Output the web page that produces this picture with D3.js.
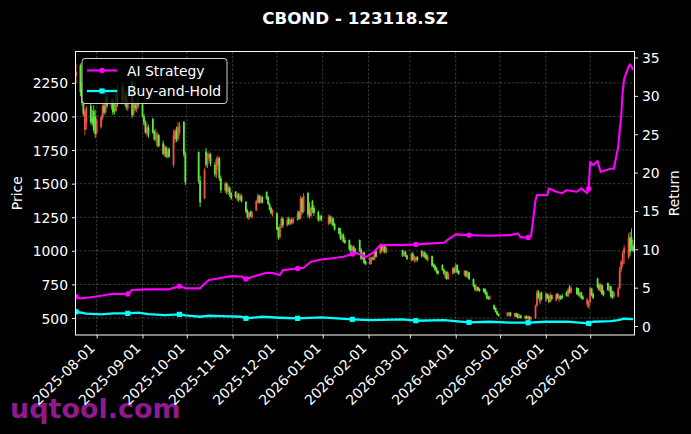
<!DOCTYPE html>
<html><head><meta charset="utf-8">
<script src="https://cdn.jsdelivr.net/npm/d3@7/dist/d3.min.js"></script>
<style>html,body{margin:0;padding:0;background:#000;}svg{display:block;}</style>
</head><body>
<script>
// ---------------- DATA ----------------
const TITLE = "CBOND - 123118.SZ";
const START_DAY = "2025-07-18", END_DAY = "2026-07-30";
const HOLIDAYS = ["2025-10-01","2025-10-02","2025-10-03","2025-10-06","2025-10-07","2025-10-08",
  "2026-01-01","2026-01-02","2026-02-16","2026-02-17","2026-02-18","2026-02-19","2026-02-20","2026-02-23",
  "2026-04-06","2026-05-01","2026-05-04","2026-05-05","2026-06-19"];
const monthTicks = ["2025-08-01","2025-09-01","2025-10-01","2025-11-01","2025-12-01","2026-01-01",
  "2026-02-01","2026-03-01","2026-04-01","2026-05-01","2026-06-01","2026-07-01"];
const priceTicks = [500,750,1000,1250,1500,1750,2000,2250];
const returnTicks = [0,5,10,15,20,25,30,35];

const opens = [2300,2380,2200,2100,1900,1950,2080,1990,2040,2000,1880,1920,1990,2080,2030,2150,2070,2120,2050,2040,2180,2100,2220,2110,2160,2060,2260,2020,2090,2050,2090,2090,2000,1950,1880,1920,1980,1890,1830,1780,1860,1800,1720,1770,1700,1760,1640,1830,1900,1830,1880,1960,1720,1735,1520,1390,1740,1640,1690,1720,1640,1560,1640,1690,1540,1450,1500,1440,1470,1430,1440,1390,1420,1380,1410,1365,1300,1240,1290,1250,1300,1360,1410,1360,1400,1440,1400,1350,1320,1270,1280,1170,1100,1180,1240,1190,1240,1200,1230,1210,1230,1290,1240,1390,1290,1430,1300,1260,1370,1320,1290,1230,1260,1200,1255,1210,1240,1200,1170,1140,1090,1120,1080,1080,1040,1000,1030,1010,1080,1010,940,990,920,900,930,950,935,1000,980,1040,1000,1040,990,1005,965,995,965,930,980,925,930,955,1000,960,990,970,930,960,900,890,870,850,895,860,800,845,790,830,870,840,895,850,820,850,810,840,790,745,705,730,715,720,715,690,660,640,597,575,550,530,515,520,540,510,535,530,500,520,495,515,490,512,490,500,590,700,620,690,630,680,665,620,670,630,680,640,665,665,690,660,730,690,725,720,665,690,660,600,580,620,720,680,795,750,700,745,700,760,700,735,700,660,660,720,860,900,980,950,1100,1100,1040];
const highs = [2390,2395,2250,2130,2060,2080,2100,2050,2085,2050,1990,2010,2100,2110,2195,2170,2135,2140,2100,2200,2245,2270,2250,2200,2190,2130,2275,2120,2110,2110,2140,2110,2020,1970,1960,1940,1990,1900,1910,1885,1870,1820,1790,1780,1760,1770,1900,1910,1925,1960,1960,1965,1740,1740,1560,1615,1765,1730,1740,1730,1660,1700,1710,1700,1560,1515,1510,1490,1480,1440,1445,1440,1430,1430,1420,1370,1310,1290,1300,1300,1380,1427,1420,1415,1410,1440,1410,1360,1330,1310,1285,1180,1200,1255,1250,1250,1255,1240,1245,1250,1300,1300,1410,1400,1430,1440,1360,1330,1380,1340,1300,1270,1270,1270,1265,1260,1250,1210,1175,1170,1130,1130,1100,1085,1050,1040,1040,1020,1085,1020,990,995,930,960,955,960,1000,1005,1055,1050,1050,1045,1030,1010,1000,1000,970,990,990,965,960,960,1005,1000,995,982,975,965,910,900,880,860,900,870,855,850,840,880,880,907,900,860,857,855,850,845,795,755,740,735,725,722,720,700,665,670,600,580,555,535,547,545,545,540,540,535,530,525,520,520,520,515,510,600,710,708,690,696,690,685,675,690,675,685,685,675,670,680,700,720,745,740,730,723,700,695,670,650,630,733,725,690,800,760,760,750,710,765,745,740,705,700,735,880,931,1000,1043,1130,1140,1167,1080];
const lows = [2250,2150,2080,2000,1860,1900,1940,1930,1880,1840,1860,1910,1970,2010,2020,2060,2050,2010,2015,2030,2070,2090,2100,2080,2050,2040,1990,2000,2040,2030,2060,1990,1930,1870,1850,1840,1870,1820,1810,1770,1770,1710,1700,1690,1690,1690,1620,1800,1810,1815,1860,1700,1490,1500,1325,1385,1620,1615,1670,1630,1550,1540,1600,1520,1430,1430,1420,1415,1400,1380,1390,1370,1365,1370,1360,1280,1240,1230,1250,1240,1295,1350,1350,1355,1350,1380,1340,1300,1270,1255,1150,1080,1090,1170,1170,1180,1190,1190,1195,1200,1220,1230,1235,1270,1280,1250,1240,1250,1280,1260,1215,1220,1220,1190,1200,1190,1180,1150,1120,1080,1070,1060,1050,1000,990,990,990,980,990,930,930,900,895,895,900,930,930,950,975,990,985,980,980,955,955,955,930,920,925,910,915,920,950,950,945,930,920,880,872,850,830,820,850,820,790,783,785,825,830,835,830,820,810,800,800,783,730,700,696,700,695,690,670,640,634,635,560,540,520,510,510,512,510,505,505,495,495,495,488,490,485,485,486,495,585,640,600,630,620,640,610,615,630,625,640,620,635,640,660,655,680,680,670,660,650,640,634,580,572,610,660,640,720,700,690,670,660,700,690,650,640,650,655,715,840,880,900,940,960,1000,990];
const closes = [2330,2180,2100,2020,2040,2060,1960,1950,1900,1870,1970,1995,2080,2030,2150,2080,2110,2030,2040,2180,2100,2220,2120,2170,2070,2100,2010,2090,2060,2090,2080,2000,1950,1880,1920,1860,1880,1830,1880,1860,1780,1720,1770,1700,1740,1700,1860,1890,1830,1920,1940,1720,1510,1520,1360,1600,1640,1700,1720,1650,1570,1680,1690,1540,1450,1500,1440,1470,1420,1390,1400,1420,1380,1410,1370,1290,1250,1280,1260,1290,1370,1410,1360,1400,1360,1390,1350,1310,1280,1300,1160,1100,1180,1240,1190,1230,1200,1230,1210,1240,1280,1240,1390,1290,1410,1270,1260,1320,1300,1280,1230,1260,1230,1255,1210,1240,1190,1160,1130,1090,1120,1070,1060,1010,1000,1030,1000,990,1000,940,980,910,900,950,945,935,990,955,1040,1000,1040,990,1020,965,990,960,940,975,935,955,950,930,960,990,955,940,960,890,880,860,840,830,860,830,845,790,830,870,840,895,840,830,850,810,840,790,740,710,730,705,700,695,680,650,640,660,565,545,525,515,540,540,515,535,510,500,520,500,515,495,512,490,505,590,690,650,680,640,680,650,620,670,640,675,650,665,640,650,665,710,690,725,680,670,690,650,640,640,620,720,670,650,730,710,745,680,670,710,735,660,650,690,720,860,920,980,1020,1100,990,1040,1000];

// Strategy return curves (key points) and their marker dates
const aiDates = ["2025-07-18","2025-07-21","2025-07-28","2025-08-04","2025-08-12","2025-08-22","2025-08-25","2025-09-04","2025-09-19","2025-09-26","2025-09-30","2025-10-10","2025-10-13","2025-10-16","2025-10-22","2025-10-31","2025-11-07","2025-11-10","2025-11-14","2025-11-24","2025-11-28","2025-12-03","2025-12-05","2025-12-15","2025-12-19","2025-12-24","2025-12-31","2026-01-06","2026-01-15","2026-01-21","2026-01-23","2026-01-28","2026-01-30","2026-02-04","2026-02-09","2026-02-13","2026-02-24","2026-03-05","2026-03-16","2026-03-24","2026-03-27","2026-04-01","2026-04-10","2026-04-24","2026-05-08","2026-05-13","2026-05-15","2026-05-20","2026-05-22","2026-05-25","2026-05-26","2026-06-02","2026-06-03","2026-06-08","2026-06-12","2026-06-15","2026-06-22","2026-06-25","2026-06-29","2026-06-30","2026-07-01","2026-07-03","2026-07-06","2026-07-08","2026-07-15","2026-07-17","2026-07-20","2026-07-21","2026-07-22","2026-07-23","2026-07-24","2026-07-27","2026-07-28","2026-07-29","2026-07-30"];
const aiValues = [3.82,3.6,3.75,3.95,4.2,4.17,4.69,4.78,4.78,5.2,4.91,4.91,5.5,6.0,6.2,6.5,6.45,6.12,6.4,6.95,6.9,6.64,7.29,7.5,7.6,8.38,8.68,8.81,9.03,9.38,9.55,9.25,8.95,9.55,10.55,10.55,10.55,10.64,10.77,10.85,11.29,11.94,11.85,11.76,11.85,12.07,11.55,11.55,11.7,16.4,17.06,17.06,17.94,17.5,17.3,17.7,17.5,17.94,17.3,17.9,21.4,20.97,21.5,20.1,20.5,20.5,23.4,25.5,27.3,30.5,32.2,33.8,34.1,33.8,33.4];
const bhDates = ["2025-07-18","2025-07-25","2025-08-04","2025-08-12","2025-08-22","2025-08-29","2025-09-05","2025-09-16","2025-09-26","2025-09-30","2025-10-10","2025-10-16","2025-10-24","2025-11-07","2025-11-10","2025-11-21","2025-12-03","2025-12-15","2025-12-31","2026-01-21","2026-02-02","2026-02-24","2026-03-05","2026-03-24","2026-04-10","2026-04-24","2026-05-08","2026-05-20","2026-06-01","2026-06-15","2026-06-30","2026-07-03","2026-07-15","2026-07-20","2026-07-24","2026-07-30"];
const bhValues = [1.86,1.62,1.52,1.65,1.65,1.74,1.56,1.43,1.52,1.38,1.21,1.34,1.30,1.21,1.0,1.21,1.08,1.0,1.13,0.87,0.78,0.87,0.69,0.78,0.48,0.56,0.43,0.43,0.56,0.56,0.35,0.56,0.65,0.78,0.95,0.91];
const markerDates = ["2025-07-18","2025-08-22","2025-09-26","2025-11-10","2025-12-15","2026-01-21","2026-03-05","2026-04-10","2026-05-20","2026-06-30"];

// ---------------- LAYOUT ----------------
const W = 691, H = 434;
const L = 75.5, R = 634.5, T = 51.5, B = 335;
const FONT = "DejaVu Sans";
const UP = "#ec5545", DOWN = "#5eea3c";

const parse = d3.utcParse("%Y-%m-%d");
const fmt = d3.utcFormat("%Y-%m-%d");
const hol = new Set(HOLIDAYS);
const days = [];
for (let d = parse(START_DAY); d <= parse(END_DAY); d = d3.utcDay.offset(d, 1)) {
  const wd = d.getUTCDay();
  if (wd === 0 || wd === 6 || hol.has(fmt(d))) continue;
  days.push(new Date(d));
}
const candles = days.map((d, i) => ({d, o: opens[i], h: highs[i], l: lows[i], c: closes[i]}))
  .filter(c => c.o !== undefined);

const x = d3.scaleUtc().domain([new Date(Date.UTC(2025,6,17,15,36)), new Date(Date.UTC(2026,6,31))]).range([L, R]);
const yP = d3.scaleLinear().domain([373.6, 2483.5]).range([B, T]);
const yR = d3.scaleLinear().domain([-1.17, 35.78]).range([B, T]);

const svg = d3.select("body").append("svg").attr("width", W).attr("height", H)
  .style("font-family", FONT);
svg.append("rect").attr("width", W).attr("height", H).attr("fill", "#000");

svg.append("defs").append("clipPath").attr("id", "clip")
  .append("rect").attr("x", L).attr("y", T).attr("width", R - L).attr("height", B - T);

// watermark (under axes text)
svg.append("text").attr("x", 10).attr("y", 418).attr("fill", "#8e1a8e")
  .style("font-size", "27px").style("font-weight", "bold").text("uqtool.com");

// grid
const grid = svg.append("g").attr("stroke", "#fff").attr("stroke-opacity", 0.33)
  .attr("stroke-width", 0.7).attr("stroke-dasharray", "2.6,1.6");
grid.selectAll(".gy").data(priceTicks).join("line")
  .attr("x1", L).attr("x2", R).attr("y1", d => yP(d)).attr("y2", d => yP(d));
grid.selectAll(".gx").data(monthTicks.map(parse)).join("line")
  .attr("y1", T).attr("y2", B).attr("x1", d => x(d)).attr("x2", d => x(d));

// candles
const cg = svg.append("g").attr("clip-path", "url(#clip)");
const cs = cg.selectAll("g").data(candles).join("g")
  .attr("stroke", d => d.c >= d.o ? UP : DOWN).attr("fill", d => d.c >= d.o ? UP : DOWN);
cs.append("line").attr("x1", d => x(d.d)).attr("x2", d => x(d.d))
  .attr("y1", d => yP(d.h)).attr("y2", d => yP(d.l)).attr("stroke-width", 0.9);
cs.append("rect").attr("x", d => x(d.d) - 0.9).attr("width", 1.8)
  .attr("y", d => yP(Math.max(d.o, d.c))).attr("height", d => Math.max(0.8, Math.abs(yP(d.o) - yP(d.c))))
  .attr("stroke", "none");

// lines
const lg = svg.append("g").attr("clip-path", "url(#clip)");
function series(dates, vals) { return dates.map((s, i) => ({d: parse(s), v: vals[i], s})); }
const ai = series(aiDates, aiValues), bh = series(bhDates, bhValues);
const line = d3.line().x(d => x(d.d)).y(d => yR(d.v));
lg.append("path").datum(bh).attr("d", line).attr("fill", "none").attr("stroke", "#00ffff")
  .attr("stroke-width", 2.3).attr("stroke-linejoin", "round");
lg.append("path").datum(ai).attr("d", line).attr("fill", "none").attr("stroke", "#ff00ff")
  .attr("stroke-width", 2.1).attr("stroke-linejoin", "round");
const mset = new Set(markerDates);
lg.selectAll(".mb").data(bh.filter(p => mset.has(p.s))).join("rect")
  .attr("x", d => x(d.d) - 2.6).attr("y", d => yR(d.v) - 2.6).attr("width", 5.2).attr("height", 5.2)
  .attr("fill", "#00ffff");
lg.selectAll(".ma").data(ai.filter(p => mset.has(p.s))).join("circle")
  .attr("cx", d => x(d.d)).attr("cy", d => yR(d.v)).attr("r", 2.7).attr("fill", "#ff00ff");

// axes
function styleAxis(g) {
  g.select(".domain").remove();
  g.selectAll(".tick line").attr("stroke", "#fff").attr("stroke-width", 0.9);
  g.selectAll(".tick text").attr("fill", "#fff").style("font-size", "13.9px").style("font-family", FONT);
}
const xa = svg.append("g").attr("transform", `translate(0,${B})`)
  .call(d3.axisBottom(x).tickValues(monthTicks.map(parse)).tickFormat(fmt).tickSize(3.5))
  .call(styleAxis);
xa.selectAll(".tick text").attr("text-anchor", "end").attr("dy", null).attr("y", 0).attr("x", 0)
  .attr("transform", "translate(-1.5,14) rotate(-45)");
svg.append("g").attr("transform", `translate(${L},0)`)
  .call(d3.axisLeft(yP).tickValues(priceTicks).tickFormat(d3.format("d")).tickSize(3.5).tickPadding(4))
  .call(styleAxis).selectAll(".tick text").attr("dy", "0.36em");
svg.append("g").attr("transform", `translate(${R},0)`)
  .call(d3.axisRight(yR).tickValues(returnTicks).tickFormat(d3.format("d")).tickSize(3.5).tickPadding(4))
  .call(styleAxis).selectAll(".tick text").attr("dy", "0.36em");

// frame
svg.append("rect").attr("x", L).attr("y", T).attr("width", R - L).attr("height", B - T)
  .attr("fill", "none").attr("stroke", "#fff").attr("stroke-width", 1);

// labels
svg.append("text").attr("x", (L + R) / 2).attr("y", 24).attr("text-anchor", "middle")
  .attr("fill", "#fff").style("font-size", "16.7px").style("font-weight", "bold").text(TITLE);
svg.append("text").attr("transform", `translate(22,${(T + B) / 2}) rotate(-90)`).attr("text-anchor", "middle")
  .attr("fill", "#fff").style("font-size", "13.9px").text("Price");
svg.append("text").attr("transform", `translate(679,${(T + B) / 2}) rotate(-90)`).attr("text-anchor", "middle")
  .attr("fill", "#fff").style("font-size", "13.9px").text("Return");

// legend
const lgd = svg.append("g");
lgd.append("rect").attr("x", 82).attr("y", 58.5).attr("width", 145).attr("height", 45).attr("rx", 3)
  .attr("fill", "#000").attr("fill-opacity", 0.8).attr("stroke", "#d0d0d0").attr("stroke-width", 1);
const items = [{name: "AI Strategy", color: "#ff00ff", shape: "circle", y: 70.5},
               {name: "Buy-and-Hold", color: "#00ffff", shape: "square", y: 91}];
items.forEach(it => {
  lgd.append("line").attr("x1", 87).attr("x2", 117).attr("y1", it.y).attr("y2", it.y)
    .attr("stroke", it.color).attr("stroke-width", it.shape === "circle" ? 2.1 : 2.3);
  if (it.shape === "circle") lgd.append("circle").attr("cx", 102).attr("cy", it.y).attr("r", 2.7).attr("fill", it.color);
  else lgd.append("rect").attr("x", 99.4).attr("y", it.y - 2.6).attr("width", 5.2).attr("height", 5.2).attr("fill", it.color);
  lgd.append("text").attr("x", 127).attr("y", it.y).attr("dy", "0.36em").attr("fill", "#fff")
    .style("font-size", "13.9px").text(it.name);
});
</script>
</body></html>
